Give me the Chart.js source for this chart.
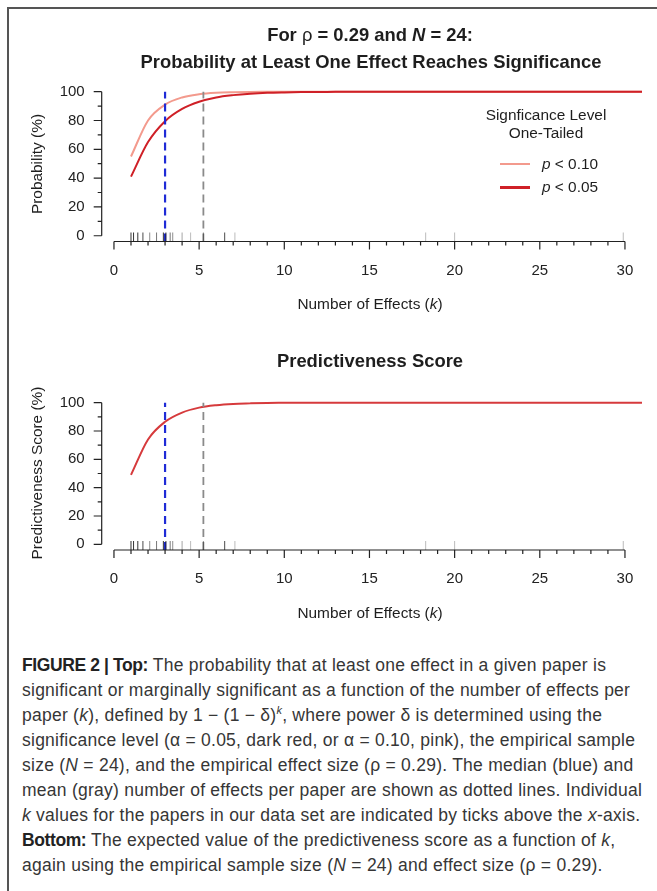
<!DOCTYPE html>
<html>
<head>
<meta charset="utf-8">
<script src="https://cdn.jsdelivr.net/npm/chart.js@4.4.0/dist/chart.umd.min.js"></script>
<style>
  body { margin: 0; background: #fff; width: 657px; height: 891px; overflow: hidden; position: relative;
         font-family: "Liberation Sans", Arial, sans-serif; }
  .frameTop { position: absolute; left: 7px; top: 7px; width: 650px; border-top: 2px solid #555; }
  .frameLeft { position: absolute; left: 7px; top: 7px; height: 884px; border-left: 2px solid #555; }
  canvas { position: absolute; left: 0; }
  .t { position: absolute; white-space: nowrap; color: #1e1e1e; transform: translate(-50%, -50%); font-size: 15.4px; }
  .b { font-weight: bold; font-size: 18.4px; }
  .rot { transform: translate(-50%, -50%) rotate(-90deg); }
  .sw { position: absolute; }
  .cap { position: absolute; left: 22px; top: 653px; font-size: 17.5px; letter-spacing: 0.25px; line-height: 25px;
         color: #363636; white-space: nowrap; }
  .cap b { letter-spacing: -0.4px; color: #222; }
  .cap sup { font-size: 11px; line-height: 0; }
</style>
</head>
<body>
<div class="frameTop"></div>
<div class="frameLeft"></div>

<canvas id="topChart" width="657" height="330" style="top:0"></canvas>
<canvas id="bottomChart" width="657" height="300" style="top:330px"></canvas>

<div class="t b" style="left:370px;top:35px">For <span style="font-weight:normal">ρ</span> = 0.29 and <i>N</i> = 24:</div>
<div class="t b" style="left:371px;top:62px">Probability at Least One Effect Reaches Significance</div>
<div class="t rot" style="left:37px;top:164px">Probability (%)</div>
<div class="t" style="left:370px;top:304px">Number of Effects (<i>k</i>)</div>

<div class="t" style="left:546px;top:115px">Signficance Level</div>
<div class="t" style="left:546px;top:133px">One-Tailed</div>
<div class="sw" style="left:500px;top:163px;width:30px;height:2px;background:#f39a8d"></div>
<div class="t" style="left:570px;top:164px"><i>p</i> &lt; 0.10</div>
<div class="sw" style="left:500px;top:185.5px;width:30px;height:3px;background:#cf2027"></div>
<div class="t" style="left:570px;top:187px"><i>p</i> &lt; 0.05</div>

<div class="t b" style="left:370px;top:361px">Predictiveness Score</div>
<div class="t rot" style="left:37px;top:473px">Predictiveness Score (%)</div>
<div class="t" style="left:370px;top:613px">Number of Effects (<i>k</i>)</div>

<div class="cap">
<b>FIGURE 2 | Top:</b> The probability that at least one effect in a given paper is<br>
significant or marginally significant as a function of the number of effects per<br>
paper (<i>k</i>), defined by 1 − (1 − δ)<sup><i>k</i></sup>, where power δ is determined using the<br>
significance level (α = 0.05, dark red, or α = 0.10, pink), the empirical sample<br>
size (<i>N</i> = 24), and the empirical effect size (ρ = 0.29). The median (blue) and<br>
mean (gray) number of effects per paper are shown as dotted lines. Individual<br>
<i>k</i> values for the papers in our data set are indicated by ticks above the <i>x</i>-axis.<br>
<b>Bottom:</b> The expected value of the predictiveness score as a function of <i>k</i>,<br>
again using the empirical sample size (<i>N</i> = 24) and effect size (ρ = 0.29).
</div>

<script>
// number of effects per paper
const kValues = [1, 2, 3, 4, 5, 6, 7, 8, 9, 10, 11, 12, 13, 14, 15, 16,
  17, 18, 19, 20, 21, 22, 23, 24, 25, 26, 27, 28, 29, 30, 31];

// probability (%) at least one effect significant, p < .10 and p < .05
const probP10 = [55, 80, 91, 96, 98.2, 99.2, 99.6, 99.8, 99.9, 100, 100, 100, 100, 100, 100, 100,
  100, 100, 100, 100, 100, 100, 100, 100, 100, 100, 100, 100, 100, 100, 100];
const probP05 = [41, 65, 79.5, 88, 93, 96, 97.6, 98.6, 99.2, 99.5, 99.7, 99.8, 99.9, 100, 100, 100,
  100, 100, 100, 100, 100, 100, 100, 100, 100, 100, 100, 100, 100, 100, 100];

// expected predictiveness score (%)
const predScore = [49, 74, 86.5, 93, 96.5, 98.2, 99.1, 99.5, 99.8, 99.9, 100, 100, 100, 100, 100, 100,
  100, 100, 100, 100, 100, 100, 100, 100, 100, 100, 100, 100, 100, 100, 100];

// k of individual papers (rug) and how dark each tick shows
const paperK =     [1, 1.15, 1.4, 1.7, 2.1, 2.5, 2.9, 3.05, 3.3, 3.45, 4.0, 4.5, 5.25, 6.5, 7.1, 18.3, 20, 29.9];
const paperShade = [0.9, 0.9, 0.9, 0.8, 0.5, 0.6, 0.9, 0.9, 0.6, 0.5, 0.4, 0.3, 0.5, 0.8, 0.3, 0.3, 0.3, 0.3];

const medianK = 3;
const meanK = 5.25;

const xTicks = [0, 5, 10, 15, 20, 25, 30];
const yTicks = [0, 20, 40, 60, 80, 100];

const tickFont = { family: '"Liberation Sans", Arial, sans-serif', size: 15 };

// R-style axes: offset lines that only span the tick range, plus the rug
const rAxes = {
  id: 'rAxes',
  afterDraw(chart) {
    const ctx = chart.ctx, xs = chart.scales.x, ys = chart.scales.y, a = chart.chartArea;
    ctx.save();
    ctx.strokeStyle = '#222';
    ctx.lineWidth = 1.2;
    ctx.beginPath();
    ctx.moveTo(a.left, ys.getPixelForValue(0));
    ctx.lineTo(a.left, ys.getPixelForValue(100));
    for (let v = 0; v <= 100; v += 10) {
      const len = v % 20 === 0 ? 8 : 4;
      const py = ys.getPixelForValue(v);
      ctx.moveTo(a.left - len, py);
      ctx.lineTo(a.left, py);
    }
    ctx.moveTo(xs.getPixelForValue(0), a.bottom);
    ctx.lineTo(xs.getPixelForValue(30), a.bottom);
    for (let v = 0; v <= 30; v++) {
      const len = v % 5 === 0 ? 8 : 4;
      const px = xs.getPixelForValue(v);
      ctx.moveTo(px, a.bottom);
      ctx.lineTo(px, a.bottom + len);
    }
    ctx.stroke();

    paperK.forEach((k, i) => {
      const px = xs.getPixelForValue(k);
      ctx.strokeStyle = 'rgba(30,30,30,' + paperShade[i] + ')';
      ctx.lineWidth = 1;
      ctx.beginPath();
      ctx.moveTo(px, a.bottom);
      ctx.lineTo(px, a.bottom - 9);
      ctx.stroke();
    });
    ctx.restore();
  }
};

function vLine(k, color, width, dash) {
  return {
    data: [{ x: k, y: -4 }, { x: k, y: 100 }],
    borderColor: color, borderWidth: width, borderDash: dash,
    pointRadius: 0, tension: 0, order: 0
  };
}

function curve(values, color, width, order) {
  return {
    data: kValues.map((k, i) => ({ x: k, y: values[i] })),
    borderColor: color, borderWidth: width,
    pointRadius: 0, cubicInterpolationMode: 'monotone', order: order
  };
}

function makePanel(id, datasets, padTop, padBottom) {
  new Chart(document.getElementById(id), {
    type: 'line',
    data: { datasets: datasets },
    options: {
      responsive: false,
      animation: false,
      events: [],
      layout: { padding: { left: 0, right: 11.6, top: padTop, bottom: padBottom } },
      plugins: { legend: { display: false }, tooltip: { enabled: false } },
      scales: {
        x: {
          type: 'linear', min: -0.72, max: 31.2,
          grid: { display: false, drawTicks: false }, border: { display: false },
          afterBuildTicks: s => { s.ticks = xTicks.map(v => ({ value: v })); },
          afterFit: s => { s.height = 40; },
          ticks: { padding: 20, font: tickFont, color: '#222', maxRotation: 0, autoSkip: false }
        },
        y: {
          min: -4, max: 104,
          grid: { display: false, drawTicks: false }, border: { display: false },
          afterBuildTicks: s => { s.ticks = yTicks.map(v => ({ value: v })); },
          afterFit: s => { s.width = 101.7; },
          ticks: { padding: 17, font: tickFont, color: '#222', autoSkip: false }
        }
      }
    },
    plugins: [rAxes]
  });
}

makePanel('topChart', [
  curve(probP10, '#f39a8d', 2, 2),
  curve(probP05, '#cf2027', 2, 1),
  vLine(medianK, '#1f2bd6', 2.2, [8, 5]),
  vLine(meanK, '#8a8a8a', 1.8, [8, 5])
], 85.9, 330 - 241.5 - 40);

makePanel('bottomChart', [
  curve(predScore, '#d63a3c', 2, 1),
  vLine(medianK, '#1f2bd6', 2.2, [8, 5]),
  vLine(meanK, '#8a8a8a', 1.8, [8, 5])
], 67, 300 - 220 - 40);
</script>
</body>
</html>
